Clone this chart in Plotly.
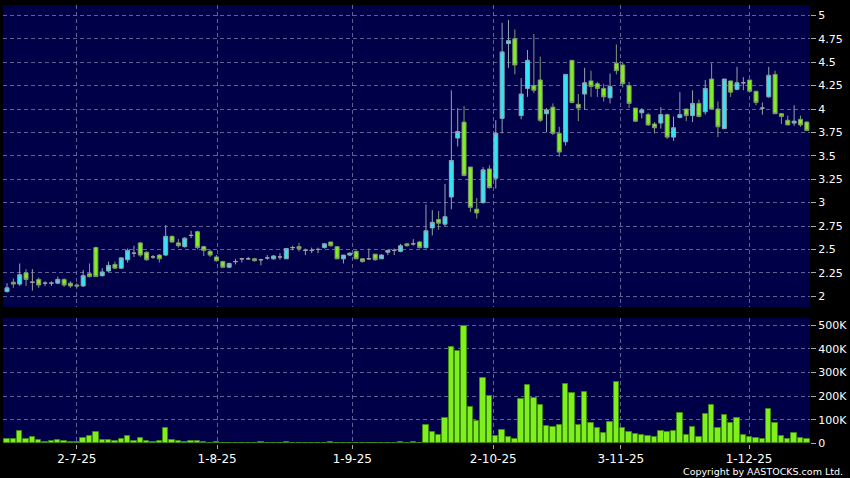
import plotly.graph_objects as go

# x-axis date labels (positions in trading-day index)
tick_pos = [11, 33.1, 54.4, 76.6, 96.7, 116.9]
tick_text = ['2-7-25', '1-8-25', '1-9-25', '2-10-25', '3-11-25', '1-12-25']

price_ticks = [2, 2.25, 2.5, 2.75, 3, 3.25, 3.5, 3.75, 4, 4.25, 4.5, 4.75, 5]
price_labels = ['2', '2.25', '2.5', '2.75', '3', '3.25', '3.5', '3.75', '4', '4.25', '4.5', '4.75', '5']
vol_ticks = [0, 100, 200, 300, 400, 500]
vol_labels = ['0', '100K', '200K', '300K', '400K', '500K']

open_ = [2.05, 2.15, 2.13, 2.25, 2.15, 2.18, 2.14, 2.14, 2.14, 2.18,
         2.14, 2.12, 2.11, 2.24, 2.52, 2.22, 2.27, 2.34, 2.30, 2.39,
         2.46, 2.57, 2.47, 2.42, 2.44, 2.44, 2.64, 2.57, 2.53, 2.65,
         2.69, 2.53, 2.48, 2.42, 2.37, 2.31, 2.37, 2.40, 2.40, 2.40,
         2.39, 2.41, 2.40, 2.42, 2.40, 2.52, 2.53, 2.49, 2.49, 2.50,
         2.52, 2.58, 2.53, 2.40, 2.44, 2.48, 2.40, 2.40, 2.45, 2.40,
         2.47, 2.49, 2.48, 2.56, 2.56, 2.58, 2.52, 2.73, 2.82, 2.77,
         3.06, 3.69, 3.86, 3.38, 2.93, 3.00, 3.36, 3.26, 3.90, 4.70,
         4.75, 3.93, 4.22, 4.25, 4.31, 3.95, 4.02, 3.74, 3.65, 4.52,
         4.05, 4.16, 4.30, 4.27, 4.22, 4.12, 4.49, 4.47, 4.25, 4.01,
         3.96, 3.94, 3.84, 3.85, 3.94, 3.70, 3.91, 4.00, 3.93, 4.06,
         3.97, 4.32, 4.00, 3.79, 4.30, 4.21, 4.28, 4.31, 4.19, 4.01,
         4.13, 4.37, 3.95, 3.88, 3.85, 3.89, 3.86]
high = [2.14, 2.19, 2.35, 2.29, 2.29, 2.20, 2.16, 2.16, 2.21, 2.19,
        2.16, 2.14, 2.28, 2.35, 2.53, 2.30, 2.37, 2.37, 2.42, 2.51,
        2.54, 2.58, 2.48, 2.44, 2.45, 2.76, 2.65, 2.61, 2.63, 2.70,
        2.70, 2.54, 2.50, 2.44, 2.38, 2.36, 2.40, 2.41, 2.42, 2.41,
        2.40, 2.44, 2.44, 2.46, 2.51, 2.54, 2.57, 2.51, 2.52, 2.52,
        2.57, 2.58, 2.53, 2.44, 2.47, 2.49, 2.40, 2.51, 2.45, 2.45,
        2.50, 2.51, 2.56, 2.57, 2.61, 2.59, 2.98, 2.92, 2.91, 3.20,
        4.20, 4.01, 4.03, 3.38, 3.05, 3.38, 3.40, 3.88, 4.92, 4.95,
        4.85, 4.33, 4.63, 4.80, 4.56, 4.01, 4.06, 3.81, 4.37, 4.52,
        4.16, 4.44, 4.41, 4.29, 4.27, 4.38, 4.69, 4.50, 4.29, 4.01,
        4.01, 3.96, 3.86, 4.02, 3.95, 3.92, 4.18, 4.00, 4.20, 4.10,
        4.31, 4.49, 4.08, 4.32, 4.30, 4.45, 4.34, 4.31, 4.19, 4.07,
        4.45, 4.41, 3.95, 3.93, 4.04, 3.93, 3.87]
low = [2.04, 2.09, 2.11, 2.11, 2.06, 2.09, 2.11, 2.11, 2.13, 2.10,
       2.09, 2.09, 2.10, 2.20, 2.21, 2.21, 2.26, 2.29, 2.29, 2.36,
       2.42, 2.42, 2.38, 2.40, 2.36, 2.43, 2.57, 2.52, 2.52, 2.62,
       2.50, 2.43, 2.42, 2.37, 2.30, 2.30, 2.34, 2.36, 2.39, 2.37,
       2.33, 2.39, 2.39, 2.39, 2.40, 2.49, 2.48, 2.44, 2.46, 2.46,
       2.51, 2.53, 2.40, 2.35, 2.43, 2.40, 2.36, 2.39, 2.38, 2.40,
       2.44, 2.44, 2.47, 2.53, 2.54, 2.51, 2.51, 2.65, 2.71, 2.75,
       2.93, 3.60, 3.28, 2.90, 2.83, 2.99, 3.15, 3.15, 3.74, 4.44,
       4.37, 3.89, 4.13, 4.17, 3.86, 3.75, 3.72, 3.49, 3.61, 4.06,
       3.87, 3.99, 4.13, 4.13, 4.08, 4.06, 4.37, 4.23, 4.01, 3.86,
       3.90, 3.82, 3.74, 3.79, 3.68, 3.66, 3.90, 3.87, 3.86, 3.91,
       3.94, 4.00, 3.70, 3.79, 4.13, 4.20, 4.20, 4.18, 4.04, 3.94,
       4.12, 3.95, 3.84, 3.83, 3.82, 3.81, 3.77]
close = [2.09, 2.13, 2.23, 2.18, 2.15, 2.12, 2.14, 2.14, 2.18, 2.12,
         2.11, 2.11, 2.22, 2.21, 2.21, 2.26, 2.33, 2.30, 2.41, 2.49,
         2.46, 2.44, 2.39, 2.42, 2.40, 2.64, 2.58, 2.54, 2.62, 2.65,
         2.52, 2.49, 2.44, 2.38, 2.31, 2.35, 2.37, 2.40, 2.40, 2.38,
         2.39, 2.41, 2.43, 2.42, 2.51, 2.52, 2.51, 2.49, 2.49, 2.50,
         2.56, 2.54, 2.40, 2.44, 2.46, 2.40, 2.37, 2.40, 2.39, 2.44,
         2.49, 2.49, 2.54, 2.54, 2.56, 2.52, 2.70, 2.79, 2.78, 2.85,
         3.45, 3.76, 3.29, 2.95, 2.89, 3.35, 3.16, 3.74, 4.61, 4.73,
         4.47, 4.16, 4.52, 4.20, 3.88, 3.99, 3.74, 3.54, 4.37, 4.07,
         4.01, 4.28, 4.24, 4.22, 4.13, 4.24, 4.41, 4.27, 4.06, 3.87,
         3.99, 3.83, 3.80, 3.94, 3.70, 3.80, 3.94, 3.93, 4.06, 3.92,
         4.22, 4.00, 3.81, 4.32, 4.18, 4.28, 4.28, 4.19, 4.07, 4.01,
         4.36, 3.95, 3.92, 3.83, 3.87, 3.83, 3.77]
# volume in thousands of shares
volume_k = [17, 17, 53, 17, 28, 13, 6, 11, 14, 10,
            7, 4, 22, 32, 48, 13, 15, 8, 17, 31,
            11, 22, 10, 4, 8, 64, 13, 8, 7, 10,
            10, 6, 1, 6, 3, 2, 3, 1, 2, 3,
            4, 2, 3, 2, 4, 3, 3, 2, 3, 2,
            3, 4, 3, 2, 2, 3, 2, 3, 2, 3,
            2, 3, 4, 1, 4, 1, 77, 49, 36, 108,
            409, 389, 497, 155, 94, 276, 200, 29, 56, 25,
            20, 188, 248, 190, 160, 73, 69, 77, 252, 213,
            77, 216, 87, 64, 42, 90, 260, 66, 46, 38,
            36, 32, 27, 50, 46, 50, 130, 36, 70, 25,
            123, 164, 63, 119, 87, 105, 34, 27, 24, 18,
            143, 84, 31, 18, 42, 21, 17]

day = list(range(len(close)))
up = [i for i in day if close[i] > open_[i]]
down = [i for i in day if close[i] < open_[i]]
flat = [i for i in day if close[i] == open_[i]]


def candles(idx, fill, edge):
    style = dict(fillcolor=fill, line=dict(color=edge, width=1))
    return go.Candlestick(
        x=idx,
        open=[open_[i] for i in idx], high=[high[i] for i in idx],
        low=[low[i] for i in idx], close=[close[i] for i in idx],
        increasing=style, decreasing=style, whiskerwidth=0,
        showlegend=False, hoverinfo='skip', xaxis='x', yaxis='y')


fig = go.Figure()
fig.add_trace(candles(up, '#33e4f4', '#8fa6ae'))
fig.add_trace(candles(down, '#7ff01e', '#7f9a6c'))
fig.add_trace(candles(flat, '#a0a0a0', '#a0a0a0'))
fig.add_trace(go.Bar(x=day, y=volume_k, width=0.85,
                     marker=dict(color='#7ff01e', line=dict(color='#3f8a12', width=1)),
                     showlegend=False, hoverinfo='skip', xaxis='x2', yaxis='y2'))

grid = 'rgba(120,120,170,0.8)'
xr = [-0.63, 126.5]
fig.update_layout(
    width=850, height=478,
    margin=dict(l=3, r=40, t=5, b=34),
    paper_bgcolor='black', plot_bgcolor='#000048',
    font=dict(family='DejaVu Sans', color='white'),
    showlegend=False, boxgap=0.1, bargap=0,
    xaxis=dict(domain=[0, 1], anchor='y', range=xr, rangeslider=dict(visible=False),
               tickmode='array', tickvals=tick_pos, showticklabels=False, ticks='',
               showgrid=True, gridcolor=grid, griddash='4px,3px', gridwidth=1,
               zeroline=False, showline=False),
    yaxis=dict(domain=[0.312, 1], anchor='x', side='right', range=[1.885, 5.111],
               tickmode='array', tickvals=price_ticks, ticktext=price_labels,
               ticks='outside', ticklen=5, tickcolor='#aaaaaa', tickfont=dict(size=11),
               showgrid=True, gridcolor=grid, griddash='4px,3px', zeroline=False),
    xaxis2=dict(domain=[0, 1], anchor='y2', range=xr,
                tickmode='array', tickvals=tick_pos, ticktext=tick_text,
                ticks='outside', ticklen=4, tickcolor='#aaaaaa', tickfont=dict(size=12),
                showgrid=True, gridcolor=grid, griddash='4px,3px', zeroline=False),
    yaxis2=dict(domain=[0, 0.287], anchor='x2', side='right', range=[-3, 530],
                tickmode='array', tickvals=vol_ticks, ticktext=vol_labels,
                ticks='outside', ticklen=5, tickcolor='#aaaaaa', tickfont=dict(size=11),
                showgrid=True, gridcolor=grid, griddash='4px,3px', zeroline=False),
    annotations=[dict(text='Copyright by AASTOCKS.com Ltd.', xref='paper', yref='paper',
                      x=1.043, y=-0.063, xanchor='right', yanchor='middle', showarrow=False,
                      font=dict(size=9.5, color='white'))],
)

# drop the page's default body margin so the figure sits at the window's top-left
fig.write_html('out.html', config={'displayModeBar': False},
               post_script="document.body.style.margin='0';")
